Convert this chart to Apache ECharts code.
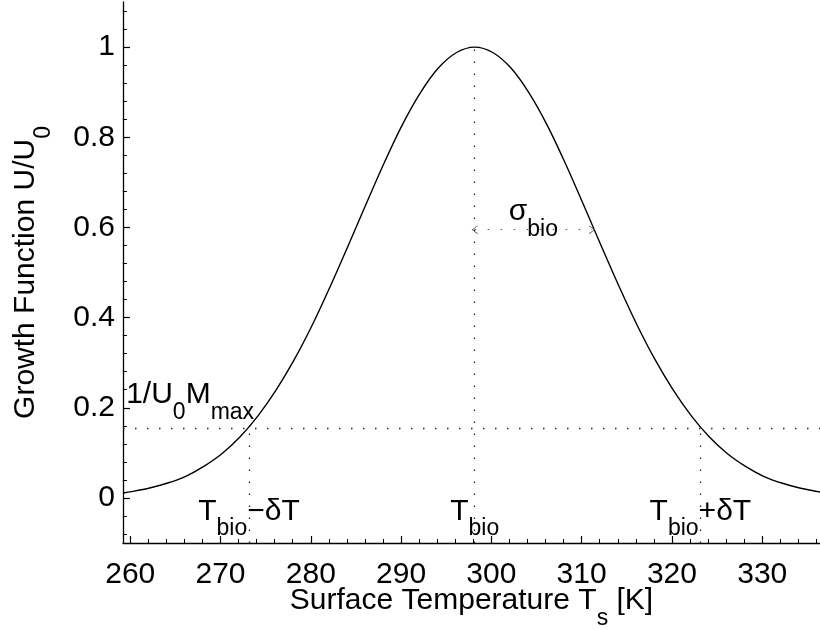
<!DOCTYPE html>
<html><head><meta charset="utf-8">
<script src="https://cdn.jsdelivr.net/npm/echarts@6.0.0/dist/echarts.min.js"></script>
<style>html,body{margin:0;padding:0;background:#fff}#c{width:820px;height:630px}</style>
</head><body><div id="c"></div>
<script>
// ---- data ----
const temperatures = [259.2, 260.15, 262.15, 264.15, 266.15, 268.15, 270.15, 272.15, 274.15, 276.15, 278.15,
  280.15, 282.15, 284.15, 286.15, 288.15, 290.15, 292.15, 294.15, 296.15, 298.15,
  300.15, 302.15, 304.15, 306.15, 308.15, 310.15, 312.15, 314.15, 316.15, 318.15,
  320.15, 322.15, 324.15, 326.15, 328.15, 330.15, 332.15, 334.15, 336.15, 336.4];
const growth = [0.011, 0.014, 0.022, 0.033, 0.048, 0.070, 0.098, 0.135, 0.182, 0.239, 0.306,
  0.383, 0.469, 0.560, 0.653, 0.744, 0.828, 0.899, 0.954, 0.988, 1.000,
  0.988, 0.954, 0.899, 0.828, 0.744, 0.653, 0.560, 0.469, 0.383, 0.306,
  0.239, 0.182, 0.135, 0.098, 0.070, 0.048, 0.033, 0.022, 0.014, 0.013];
const xTickValues = [260, 270, 280, 290, 300, 310, 320, 330];
const xMinorTickValues = [260,262,264,266,268,270,272,274,276,278,280,282,284,286,288,290,292,294,296,298,300,
  302,304,306,308,310,312,314,316,318,320,322,324,326,328,330,332,334,336];
const yTickValues = [0, 0.2, 0.4, 0.6, 0.8, 1];
const yMinorTickValues = [-0.08,-0.04,0,0.04,0.08,0.12,0.16,0.2,0.24,0.28,0.32,0.36,0.4,0.44,0.48,0.52,0.56,0.6,
  0.64,0.68,0.72,0.76,0.8,0.84,0.88,0.92,0.96,1,1.04,1.08];
const Tbio = 298.15;
const deltaT = 25;
const sigmaBio = 13.0;
const threshold = 0.155;
const sigmaArrowY = 0.595;
const xRange = [259.2, 336.4];
const yRange = [-0.1, 1.1];

const FONT = "'Liberation Sans', Arial, Helvetica, sans-serif";
const richStyles = {
  m: {fontSize: 30, lineHeight: 30, fontFamily: FONT, color: '#000'},
  s: {fontSize: 23, lineHeight: 23, fontFamily: FONT, color: '#000', padding: [35, 0, 0, 0]}
};
const dotted = {color: '#222', width: 1.3, type: [1.5, 10.5]};
const chevron = 'path://M0,10 L5,0 L10,10 L9,10 L5,2 L1,10 Z';

const chart = echarts.init(document.getElementById('c'), null, {renderer: 'canvas'});
const axisCommon = {
  type: 'value', splitLine: {show: false}
};
chart.setOption({
  animation: false,
  backgroundColor: '#fff',
  grid: {left: 123, right: 0, top: 2, bottom: 87, containLabel: false, outerBoundsMode: 'none'},
  xAxis: [
    Object.assign({}, axisCommon, {
      min: xRange[0], max: xRange[1], position: 'bottom',
      axisLine: {show: true, onZero: false, lineStyle: {color: '#000', width: 1.3}},
      axisTick: {show: true, inside: true, length: 7, customValues: xTickValues, lineStyle: {color: '#000', width: 1.2}},
      axisLabel: {show: true, customValues: xTickValues, margin: 17, fontSize: 30, fontFamily: FONT, color: '#000'},
      name: '{m|Surface Temperature T}{s|s}{m| [K]}',
      nameLocation: 'middle', nameGap: 43, nameMoveOverlap: false,
      nameTextStyle: {rich: richStyles}
    }),
    Object.assign({}, axisCommon, {
      min: xRange[0], max: xRange[1], position: 'bottom',
      axisLine: {show: false, onZero: false},
      axisTick: {show: true, inside: true, length: 4, customValues: xMinorTickValues, lineStyle: {color: '#000', width: 1}},
      axisLabel: {show: false}
    })
  ],
  yAxis: [
    Object.assign({}, axisCommon, {
      min: yRange[0], max: yRange[1], position: 'left',
      axisLine: {show: true, onZero: false, lineStyle: {color: '#000', width: 1.3}},
      axisTick: {show: true, inside: true, length: 7, customValues: yTickValues, lineStyle: {color: '#000', width: 1.2}},
      axisLabel: {show: true, customValues: yTickValues, margin: 8, fontSize: 30, fontFamily: FONT, color: '#000'},
      name: '{m|Growth Function U/U}{s|0}',
      nameLocation: 'middle', nameGap: 82, nameRotate: 90, nameMoveOverlap: false,
      nameTextStyle: {rich: richStyles}
    }),
    Object.assign({}, axisCommon, {
      min: yRange[0], max: yRange[1], position: 'left',
      axisLine: {show: false, onZero: false},
      axisTick: {show: true, inside: true, length: 4, customValues: yMinorTickValues, lineStyle: {color: '#000', width: 1}},
      axisLabel: {show: false}
    })
  ],
  series: [{
    type: 'line',
    xAxisIndex: 0, yAxisIndex: 0,
    data: temperatures.map((t, i) => [t, growth[i]]),
    showSymbol: false, symbol: 'none',
    smooth: 0.3,
    lineStyle: {color: '#000', width: 1.4},
    silent: true,
    markLine: {
      silent: true, symbol: ['none', 'none'], animation: false,
      label: {show: false},
      lineStyle: dotted,
      data: [
        [{coord: [xRange[0], threshold]}, {coord: [xRange[1], threshold]}],
        [{coord: [Tbio - deltaT, yRange[0]]}, {coord: [Tbio - deltaT, threshold]}],
        [{coord: [Tbio, yRange[0]]}, {coord: [Tbio, 1]}],
        [{coord: [Tbio + deltaT, yRange[0]]}, {coord: [Tbio + deltaT, threshold]}],
        [{coord: [Tbio, sigmaArrowY], symbol: chevron, symbolSize: [9, 6],
          lineStyle: {color: '#555', width: 1.2, type: [1.5, 11.5]}},
         {coord: [Tbio + sigmaBio, sigmaArrowY], symbol: chevron, symbolSize: [9, 6]}]
      ]
    }
  }]
});

// annotations placed in data coordinates: [text, x, y(baseline), align]
const annotations = [
  ['{m|1/U}{s|0}{m|M}{s|max}', 259.55, 0.206, 'left'],
  ['{m|T}{s|bio}{m|\u2212\u03B4T}', Tbio - deltaT, -0.0525, 'center'],
  ['{m|T}{s|bio}', Tbio, -0.0525, 'center'],
  ['{m|T}{s|bio}{m|+\u03B4T}', Tbio + deltaT, -0.0525, 'center'],
  ['{m|\u03C3}{s|bio}', Tbio + sigmaBio / 2, 0.6126, 'center']
];
const BASE_OFFSET = 25;
chart.setOption({
  graphic: annotations.map(a => {
    const p = chart.convertToPixel({gridIndex: 0}, [a[1], a[2]]);
    return {
      type: 'text', x: p[0], y: p[1] - BASE_OFFSET, silent: true, z: 10,
      style: {text: a[0], align: a[3], verticalAlign: 'top', rich: richStyles}
    };
  })
});
</script>
</body></html>
